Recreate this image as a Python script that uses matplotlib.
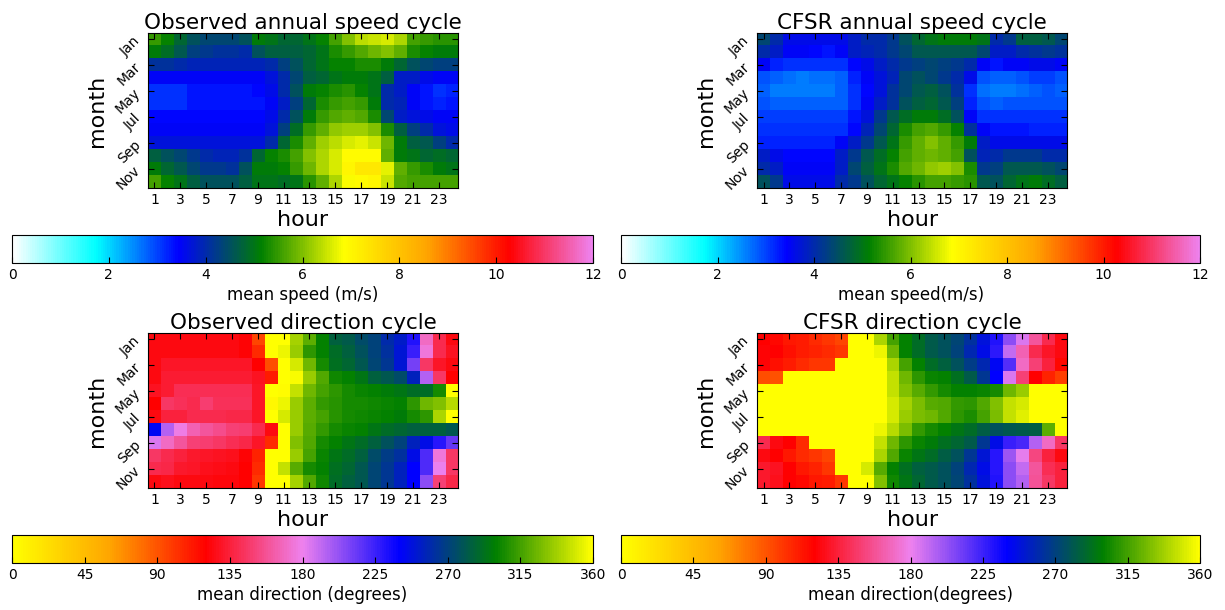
import numpy as np
import matplotlib
matplotlib.use('Agg')
import matplotlib.pyplot as plt
from matplotlib.colors import LinearSegmentedColormap

hours = list(range(1, 25))
months = ['Jan', 'Feb', 'Mar', 'Apr', 'May', 'Jun',
          'Jul', 'Aug', 'Sep', 'Oct', 'Nov', 'Dec']

# mean wind speed (m/s), rows = months, columns = hours 1..24
obs_speed = [
    [5.5, 5.2, 4.8, 4.5, 4.4, 4.4, 4.4, 4.5, 5.1, 5.0, 4.8, 4.8, 5.0, 5.2, 5.6, 6.0, 6.4, 6.5, 6.6, 6.3, 5.6, 5.5, 5.4, 5.4],
    [5.1, 4.9, 4.6, 4.3, 4.2, 4.1, 4.1, 4.0, 4.5, 4.7, 4.7, 4.7, 4.8, 5.0, 5.3, 5.5, 5.7, 5.9, 6.0, 5.8, 5.3, 5.2, 5.1, 5.1],
    [4.1, 4.1, 4.0, 3.9, 3.9, 3.9, 3.9, 3.9, 3.9, 4.0, 4.3, 4.5, 4.8, 5.0, 5.2, 5.2, 5.3, 5.3, 5.1, 4.8, 4.5, 4.4, 4.3, 4.3],
    [3.5, 3.5, 3.5, 3.5, 3.5, 3.5, 3.5, 3.5, 3.5, 3.7, 4.0, 4.4, 4.7, 4.8, 5.0, 5.1, 5.1, 5.0, 4.7, 3.8, 3.8, 3.6, 3.5, 3.5],
    [3.1, 3.1, 3.1, 3.3, 3.3, 3.3, 3.3, 3.3, 3.4, 3.6, 4.0, 4.5, 5.1, 5.2, 5.3, 5.4, 5.2, 5.0, 4.0, 3.8, 3.5, 3.3, 3.1, 3.2],
    [3.1, 3.1, 3.1, 3.3, 3.3, 3.3, 3.3, 3.3, 3.3, 3.5, 3.8, 4.3, 4.8, 5.3, 5.5, 5.6, 5.5, 5.1, 4.0, 3.9, 3.5, 3.3, 3.2, 3.3],
    [3.4, 3.4, 3.4, 3.4, 3.4, 3.4, 3.4, 3.4, 3.4, 3.6, 4.0, 4.5, 5.1, 5.5, 5.7, 5.8, 5.7, 5.3, 4.4, 3.8, 3.7, 3.6, 3.5, 3.5],
    [3.5, 3.5, 3.5, 3.5, 3.5, 3.5, 3.5, 3.5, 3.5, 3.7, 4.3, 4.9, 5.5, 5.8, 6.1, 6.2, 6.2, 6.0, 5.3, 4.7, 4.3, 4.0, 3.7, 3.6],
    [3.7, 3.7, 3.7, 3.7, 3.7, 3.7, 3.7, 3.7, 3.7, 4.0, 4.8, 5.3, 5.8, 6.2, 6.4, 6.6, 6.7, 6.5, 5.9, 5.1, 4.7, 4.6, 4.3, 4.0],
    [4.7, 4.5, 4.4, 4.2, 4.0, 3.9, 3.9, 4.1, 4.8, 5.2, 5.3, 5.6, 6.0, 6.3, 6.6, 6.9, 6.9, 6.9, 5.8, 5.1, 5.0, 4.8, 4.9, 4.8],
    [5.1, 4.8, 4.6, 4.4, 4.2, 4.2, 4.1, 4.5, 5.1, 5.1, 5.2, 5.5, 5.9, 6.3, 6.6, 7.0, 7.3, 7.3, 6.7, 5.8, 5.5, 5.3, 5.1, 5.0],
    [5.6, 5.2, 5.0, 4.7, 4.5, 4.5, 4.5, 4.7, 5.0, 5.0, 4.9, 5.0, 5.4, 5.8, 6.3, 6.8, 6.9, 7.0, 6.5, 5.7, 5.6, 5.6, 5.6, 5.6],
]

cfsr_speed = [
    [4.4, 4.0, 3.6, 3.6, 3.6, 3.6, 3.6, 3.8, 4.0, 4.0, 4.2, 4.5, 4.8, 5.0, 5.1, 5.1, 5.1, 5.0, 4.0, 4.2, 4.7, 4.7, 4.6, 4.4],
    [4.0, 3.8, 3.5, 3.5, 3.4, 3.3, 3.5, 3.8, 3.9, 4.0, 4.2, 4.4, 4.6, 4.6, 4.6, 4.6, 4.6, 4.4, 3.8, 3.8, 4.0, 4.1, 4.2, 4.1],
    [3.5, 3.2, 3.1, 3.1, 3.1, 3.1, 3.1, 3.4, 3.6, 3.8, 4.0, 4.2, 4.3, 4.4, 4.3, 4.2, 4.0, 3.5, 3.3, 3.5, 3.5, 3.6, 3.6, 3.5],
    [2.9, 2.8, 2.7, 2.6, 2.7, 2.7, 2.8, 3.2, 3.5, 3.7, 3.9, 4.4, 4.5, 4.4, 4.2, 4.0, 3.6, 2.9, 2.8, 2.8, 2.9, 3.0, 3.0, 2.9],
    [2.8, 2.6, 2.6, 2.6, 2.6, 2.6, 2.8, 3.1, 3.4, 3.7, 4.1, 4.4, 4.6, 4.7, 4.5, 4.1, 3.1, 2.7, 2.6, 2.6, 2.7, 2.8, 2.9, 2.8],
    [2.9, 2.8, 2.8, 2.8, 2.8, 2.8, 2.8, 3.1, 3.5, 3.8, 4.1, 4.5, 4.7, 4.8, 4.6, 4.3, 3.2, 2.9, 2.8, 2.9, 2.9, 2.9, 2.9, 2.9],
    [3.0, 3.0, 3.0, 3.0, 3.0, 3.0, 3.0, 3.3, 3.7, 4.2, 4.6, 4.9, 5.1, 5.1, 4.9, 4.5, 3.5, 3.1, 3.1, 3.1, 3.1, 3.1, 3.1, 3.1],
    [3.1, 3.1, 3.1, 3.1, 3.1, 3.1, 3.1, 3.4, 3.9, 4.4, 4.8, 5.3, 5.6, 5.7, 5.5, 5.2, 4.1, 3.5, 3.3, 3.3, 3.3, 3.2, 3.2, 3.2],
    [3.2, 3.2, 3.2, 3.2, 3.2, 3.2, 3.5, 3.8, 4.2, 4.6, 5.0, 5.5, 5.8, 6.0, 5.8, 5.5, 5.1, 3.8, 3.6, 3.6, 3.6, 3.6, 3.6, 3.6],
    [3.8, 3.6, 3.4, 3.4, 3.4, 3.4, 3.8, 4.2, 4.6, 4.9, 5.2, 5.6, 5.8, 5.9, 5.8, 5.6, 4.5, 3.9, 4.0, 4.2, 4.2, 4.2, 4.0, 4.0],
    [4.0, 3.8, 3.5, 3.5, 3.5, 3.5, 3.8, 4.4, 4.7, 5.0, 5.3, 5.7, 5.9, 6.1, 6.2, 6.0, 5.3, 4.2, 4.3, 4.6, 4.6, 4.6, 4.5, 4.4],
    [4.5, 4.2, 3.6, 3.6, 3.6, 3.6, 4.0, 4.2, 4.5, 4.8, 5.0, 5.2, 5.4, 5.6, 5.6, 5.5, 5.4, 4.6, 4.5, 4.8, 5.0, 5.1, 4.9, 4.7],
]

# mean wind direction (degrees)
obs_dir = [
    [125, 125, 125, 125, 125, 125, 125, 122, 95, 0, 360, 338, 322, 300, 285, 282, 275, 270, 260, 252, 232, 170, 140, 125],
    [125, 125, 125, 125, 125, 125, 125, 122, 105, 0, 355, 335, 310, 300, 290, 285, 278, 270, 262, 250, 225, 175, 140, 128],
    [125, 130, 130, 130, 130, 130, 130, 130, 120, 92, 0, 350, 325, 305, 292, 288, 280, 272, 265, 250, 210, 145, 130, 125],
    [125, 133, 133, 133, 133, 133, 133, 133, 128, 110, 0, 358, 335, 318, 303, 300, 295, 285, 280, 275, 255, 195, 145, 120],
    [128, 133, 142, 142, 142, 142, 142, 142, 130, 0, 2, 345, 325, 315, 310, 305, 302, 300, 298, 295, 290, 290, 305, 0],
    [120, 145, 143, 140, 148, 143, 143, 143, 130, 5, 355, 335, 322, 312, 308, 305, 305, 303, 302, 300, 310, 325, 330, 343],
    [125, 135, 135, 140, 140, 140, 138, 138, 130, 0, 350, 335, 322, 315, 308, 305, 303, 302, 300, 298, 305, 310, 340, 0],
    [242, 195, 178, 165, 160, 155, 150, 148, 140, 125, 0, 335, 320, 312, 305, 302, 300, 295, 290, 288, 285, 285, 285, 280],
    [185, 170, 160, 150, 148, 145, 142, 138, 130, 105, 0, 330, 318, 305, 300, 295, 290, 285, 278, 270, 255, 245, 230, 215],
    [145, 140, 135, 132, 130, 128, 127, 122, 108, 0, 0, 335, 315, 302, 295, 290, 285, 275, 268, 262, 245, 220, 175, 145],
    [140, 138, 132, 130, 127, 126, 125, 120, 105, 0, 345, 320, 305, 300, 292, 288, 280, 272, 265, 255, 240, 220, 180, 145],
    [125, 127, 125, 124, 124, 123, 123, 120, 100, 0, 0, 338, 318, 303, 290, 285, 280, 272, 265, 255, 240, 205, 150, 138],
]

cfsr_dir = [
    [120, 118, 112, 110, 105, 100, 95, 0, 0, 340, 315, 300, 290, 282, 278, 272, 262, 248, 232, 205, 185, 160, 140, 125],
    [122, 120, 115, 110, 108, 105, 100, 0, 0, 355, 325, 300, 290, 282, 278, 270, 258, 245, 228, 190, 165, 140, 130, 125],
    [122, 115, 110, 105, 100, 100, 0, 0, 0, 0, 340, 315, 300, 290, 285, 278, 268, 258, 242, 218, 170, 150, 135, 118],
    [92, 90, 0, 0, 0, 0, 0, 0, 0, 0, 345, 325, 310, 302, 300, 292, 282, 265, 240, 185, 150, 120, 108, 98],
    [0, 0, 0, 0, 0, 0, 0, 0, 0, 0, 345, 330, 320, 312, 305, 300, 300, 302, 305, 325, 335, 0, 0, 0],
    [0, 0, 0, 0, 0, 0, 0, 0, 0, 0, 350, 338, 328, 320, 318, 312, 310, 318, 330, 345, 350, 0, 0, 0],
    [0, 0, 0, 0, 0, 0, 0, 0, 0, 0, 350, 335, 328, 325, 318, 310, 306, 315, 328, 345, 352, 0, 0, 0],
    [0, 0, 0, 0, 0, 0, 0, 0, 0, 355, 343, 328, 312, 305, 300, 295, 290, 283, 278, 280, 282, 283, 322, 0],
    [140, 125, 120, 105, 0, 0, 0, 0, 0, 345, 325, 310, 302, 298, 292, 288, 282, 265, 245, 225, 222, 195, 170, 145],
    [125, 120, 112, 105, 100, 95, 0, 0, 0, 340, 318, 302, 295, 290, 283, 278, 265, 250, 230, 200, 182, 152, 135, 125],
    [132, 128, 120, 112, 108, 100, 0, 0, 350, 320, 300, 292, 285, 282, 278, 270, 258, 245, 230, 205, 190, 160, 142, 135],
    [132, 127, 120, 118, 112, 110, 100, 0, 0, 330, 303, 295, 288, 282, 278, 272, 262, 248, 232, 205, 195, 158, 145, 135],
]

speed_cmap = LinearSegmentedColormap.from_list(
    'speed', ['white', 'cyan', 'blue', 'green', 'yellow', 'orange', 'red', 'violet'])
dir_cmap = LinearSegmentedColormap.from_list(
    'direction', ['yellow', 'orange', 'red', 'violet', 'blue', 'green', 'yellow'])

plt.rcParams['xtick.direction'] = 'in'
plt.rcParams['ytick.direction'] = 'in'
plt.rcParams['xtick.top'] = True
plt.rcParams['ytick.right'] = True
plt.rcParams['xtick.major.size'] = 4
plt.rcParams['ytick.major.size'] = 4

fig = plt.figure(figsize=(12.25, 6.1), dpi=100)


def heatmap(rect, data, cmap, vmin, vmax, title):
    ax = fig.add_axes(rect)
    im = ax.imshow(np.array(data), cmap=cmap, vmin=vmin, vmax=vmax,
                   interpolation='nearest', aspect='auto',
                   extent=[0.5, 24.5, 12.5, 0.5])
    ax.set_xticks(hours[::2])
    ax.set_xticklabels([str(h) for h in hours[::2]], fontsize=10)
    ax.set_yticks(range(1, 13, 2))
    ax.set_yticklabels(months[::2], rotation=45, fontsize=10)
    ax.set_xlabel('hour', fontsize=16, labelpad=2)
    ax.set_ylabel('month', fontsize=16)
    ax.set_title(title, fontsize=15.5, pad=3)
    return im


def colorbar(rect, im, ticks, label):
    cax = fig.add_axes(rect)
    cb = fig.colorbar(im, cax=cax, orientation='horizontal', ticks=ticks)
    cb.ax.tick_params(direction='in', top=False, labelsize=10, length=4)
    cb.set_label(label, fontsize=12, labelpad=3)
    return cb


hm_w, hm_h = 0.2531, 0.2541
im1 = heatmap([0.1208, 0.6918, hm_w, hm_h], obs_speed, speed_cmap, 0, 12,
              'Observed annual speed cycle')
im2 = heatmap([0.618, 0.6918, hm_w, hm_h], cfsr_speed, speed_cmap, 0, 12,
              'CFSR annual speed cycle')
im3 = heatmap([0.1208, 0.2, hm_w, hm_h], obs_dir, dir_cmap, 0, 360,
              'Observed direction cycle')
im4 = heatmap([0.618, 0.2, hm_w, hm_h], cfsr_dir, dir_cmap, 0, 360,
              'CFSR direction cycle')

cb_h = 0.0459
colorbar([0.0098, 0.5689, 0.4743, cb_h], im1, range(0, 13, 2), 'mean speed (m/s)')
colorbar([0.507, 0.5689, 0.4727, cb_h], im2, range(0, 13, 2), 'mean speed(m/s)')
colorbar([0.0098, 0.077, 0.4743, cb_h], im3, range(0, 361, 45), 'mean direction (degrees)')
colorbar([0.507, 0.077, 0.4727, cb_h], im4, range(0, 361, 45), 'mean direction(degrees)')

fig.savefig('out.png', dpi=100)
